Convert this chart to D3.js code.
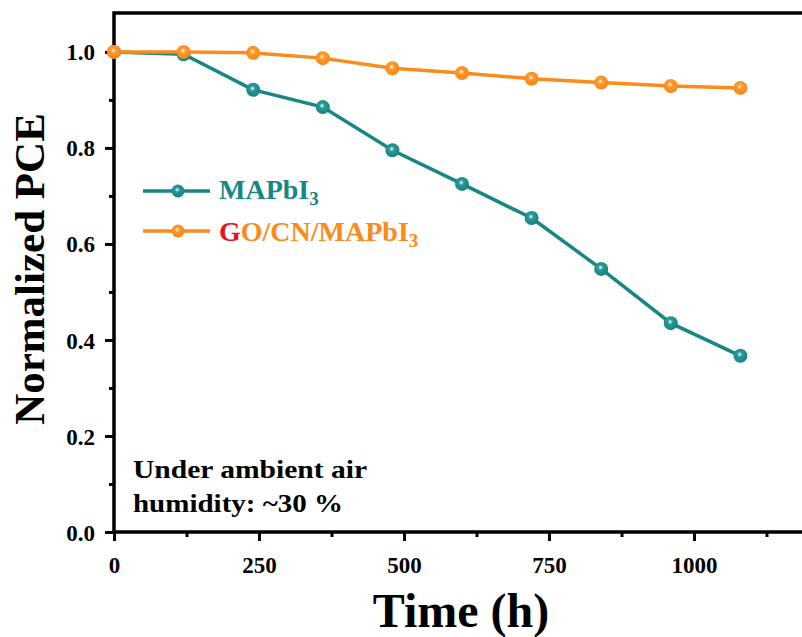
<!DOCTYPE html>
<html>
<head>
<meta charset="utf-8">
<script src="https://cdn.jsdelivr.net/npm/d3@7"></script>
<style>
  body { margin: 0; background: #fff; }
  svg text { font-family: "Liberation Serif", "Times New Roman", serif; font-weight: bold; }
</style>
</head>
<body>
<svg id="chart" width="802" height="637"></svg>
<script>
// data
var hours = [0, 120, 240, 360, 480, 600, 720, 840, 960, 1080];
var mapbi3 = [1.0, 0.995, 0.921, 0.885, 0.795, 0.725, 0.654, 0.548, 0.435, 0.367];
var gocn = [1.0, 1.0, 0.998, 0.987, 0.966, 0.956, 0.944, 0.936, 0.929, 0.925];
var xTicks = [0, 250, 500, 750, 1000];
var yTicks = [0, 0.2, 0.4, 0.6, 0.8, 1.0];

var svg = d3.select('#chart');
var plotLeft = 114, plotTop = 13, plotBottom = 532;

var x = d3.scaleLinear().domain([0, 1200]).range([plotLeft, plotLeft + 1200 * 0.58]);
var y = d3.scaleLinear().domain([0, 1.081]).range([plotBottom, plotTop]);

var defs = svg.append('defs');
function ballGrad(id, base, dark) {
  var g = defs.append('radialGradient').attr('id', id)
    .attr('cx', '45%').attr('cy', '40%').attr('r', '60%');
  g.append('stop').attr('offset', '0%').attr('stop-color', '#ffffff');
  g.append('stop').attr('offset', '30%').attr('stop-color', base);
  g.append('stop').attr('offset', '100%').attr('stop-color', dark);
}
ballGrad('gTeal', '#2a9a96', '#14817e');
ballGrad('gOrange', '#ff9a2e', '#f98512');

// frame
svg.append('rect')
  .attr('x', plotLeft).attr('y', plotTop)
  .attr('width', x(1200) - plotLeft).attr('height', plotBottom - plotTop)
  .attr('fill', 'none').attr('stroke', '#000').attr('stroke-width', 3.5);

// axes
var xAxis = d3.axisBottom(x).tickValues(xTicks).tickSize(9).tickFormat(d3.format('d'));
var xMinor = d3.axisBottom(x).tickValues([125, 375, 625, 875, 1125]).tickSize(5).tickFormat('');
var yAxis = d3.axisLeft(y).tickValues(yTicks).tickSize(9).tickFormat(d3.format('.1f'));
var yMinor = d3.axisLeft(y).tickValues([0.1, 0.3, 0.5, 0.7, 0.9]).tickSize(5).tickFormat('');

function styleAxis(g) {
  g.select('.domain').remove();
  g.selectAll('line').attr('stroke', '#000').attr('stroke-width', 3);
  g.selectAll('text').attr('fill', '#000').attr('font-size', 23);
}
svg.append('g').attr('transform', 'translate(0,' + plotBottom + ')').call(xAxis).call(styleAxis)
  .selectAll('text').attr('y', 41).attr('dy', 0);
svg.append('g').attr('transform', 'translate(0,' + plotBottom + ')').call(xMinor).call(styleAxis);
svg.append('g').attr('transform', 'translate(' + plotLeft + ',0)').call(yAxis).call(styleAxis)
  .selectAll('text').attr('x', -19).attr('dy', '0.35em');
svg.append('g').attr('transform', 'translate(' + plotLeft + ',0)').call(yMinor).call(styleAxis);

// axis titles
svg.append('text').attr('x', 461).attr('y', 627).attr('text-anchor', 'middle')
  .attr('font-size', 48).text('Time (h)');
svg.append('text').attr('transform', 'translate(44,269) rotate(-90)').attr('text-anchor', 'middle')
  .attr('font-size', 43).text('Normalized PCE');

var line = d3.line().x(function(d) { return x(d[0]); }).y(function(d) { return y(d[1]); });

var series = [
  { vals: mapbi3, color: '#168783', grad: 'url(#gTeal)' },
  { vals: gocn, color: '#fd8a1a', grad: 'url(#gOrange)' }
];

series.forEach(function(s) {
  var pts = hours.map(function(h, i) { return [h, s.vals[i]]; });
  svg.append('path').datum(pts).attr('d', line)
    .attr('fill', 'none').attr('stroke', s.color).attr('stroke-width', 3.5);
  svg.selectAll(null).data(pts).enter().append('circle')
    .attr('cx', function(d) { return x(d[0]); })
    .attr('cy', function(d) { return y(d[1]); })
    .attr('r', 7).attr('fill', s.grad);
});

// legend
var legend = svg.append('g');
[{ y: 191, color: '#168783', grad: 'url(#gTeal)' }, { y: 231, color: '#fd8a1a', grad: 'url(#gOrange)' }]
  .forEach(function(l) {
    legend.append('line').attr('x1', 143).attr('x2', 210).attr('y1', l.y).attr('y2', l.y)
      .attr('stroke', l.color).attr('stroke-width', 3.5);
    legend.append('circle').attr('cx', 178).attr('cy', l.y).attr('r', 6.5).attr('fill', l.grad);
  });
var t1 = legend.append('text').attr('x', 219).attr('y', 199).attr('font-size', 28).attr('fill', '#168783');
t1.append('tspan').text('MAPbI');
t1.append('tspan').attr('font-size', 19).attr('dy', 6).text('3');
var t2 = legend.append('text').attr('x', 219).attr('y', 241).attr('font-size', 28).attr('fill', '#fd8a1a');
t2.append('tspan').attr('fill', '#e8141e').text('G');
t2.append('tspan').text('O/CN/MAPbI');
t2.append('tspan').attr('font-size', 19).attr('dy', 6).text('3');

// note (the original lettering is a bit wide, so stretch it to its measured length)
svg.append('text').attr('x', 133).attr('y', 478).attr('font-size', 26)
  .attr('textLength', 234).attr('lengthAdjust', 'spacingAndGlyphs').text('Under ambient air');
svg.append('text').attr('x', 133).attr('y', 512).attr('font-size', 26)
  .attr('textLength', 210).attr('lengthAdjust', 'spacingAndGlyphs').text('humidity: ~30 %');
</script>
</body>
</html>
